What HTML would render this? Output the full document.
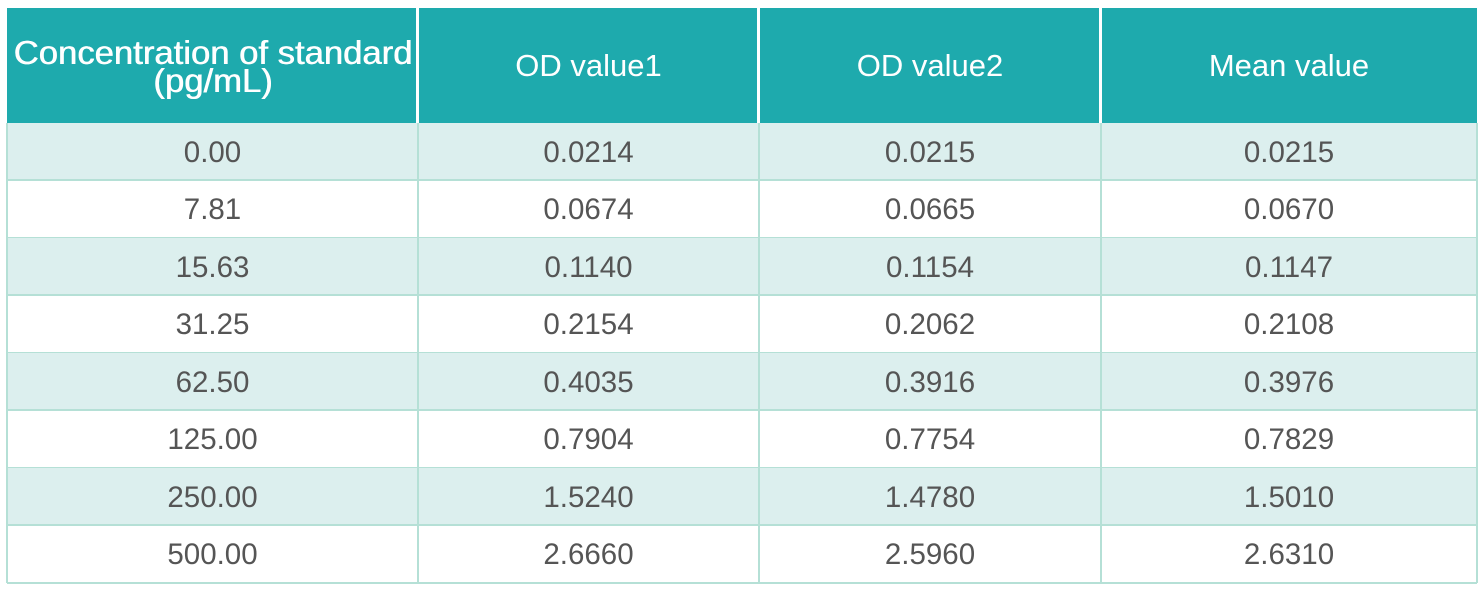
<!DOCTYPE html>
<html><head><meta charset="utf-8"><style>
body{margin:0;width:1483px;height:594px;background:#fff;position:relative;overflow:hidden;font-family:"Liberation Sans",sans-serif;}
.c{position:absolute;display:flex;align-items:center;justify-content:center;text-align:center;box-sizing:border-box;color:#555;font-size:29.5px;}
.h{background:#1eaaad;color:#fff;font-size:31px;line-height:28px;}
.v{position:absolute;background:#b5e0d6;}
.w{position:absolute;background:#fff;}
</style></head><body>
<div class="c h" style="left:7px;top:8px;width:1470px;height:115px;"></div>
<div class="c h" style="left:7px;top:8px;width:411px;height:115px;"><span style="display:inline-block;font-size:33px;transform:scaleX(1.05);padding-top:2px;text-shadow:0.6px 0 0 #fff">Concentration of standard<br>(pg/mL)</span></div>
<div class="c h" style="left:418px;top:8px;width:341px;height:115px;">OD value1</div>
<div class="c h" style="left:759px;top:8px;width:342px;height:115px;">OD value2</div>
<div class="c h" style="left:1101px;top:8px;width:376px;height:115px;">Mean value</div>
<div class="w" style="left:416px;top:8px;width:3px;height:115px"></div>
<div class="w" style="left:757px;top:8px;width:3px;height:115px"></div>
<div class="w" style="left:1099px;top:8px;width:3px;height:115px"></div>
<div id="rows"></div>
<script>
var d=[["0.00","0.0214","0.0215","0.0215"],["7.81","0.0674","0.0665","0.0670"],["15.63","0.1140","0.1154","0.1147"],["31.25","0.2154","0.2062","0.2108"],["62.50","0.4035","0.3916","0.3976"],["125.00","0.7904","0.7754","0.7829"],["250.00","1.5240","1.4780","1.5010"],["500.00","2.6660","2.5960","2.6310"]];
var xs=[7,418,759,1101,1477],h="";
for(var i=0;i<8;i++){var t=123+i*57.5;
h+='<div class="c" style="left:7px;top:'+t+'px;width:1470px;height:57.5px;background:'+(i%2?'#fff':'#dcefee')+'"></div>';
for(var j=0;j<4;j++)h+='<div class="c" style="left:'+xs[j]+'px;top:'+(t+1)+'px;width:'+(xs[j+1]-xs[j])+'px;height:57.5px">'+d[i][j]+'</div>';
h+='<div class="v" style="left:7px;top:'+(t+56)+'px;width:1470px;height:2px"></div>';}
for(var j=0;j<5;j++)h+='<div class="v" style="left:'+(xs[j]-1)+'px;top:123px;width:2px;height:460px"></div>';
document.getElementById('rows').innerHTML=h;
</script>
</body></html>
